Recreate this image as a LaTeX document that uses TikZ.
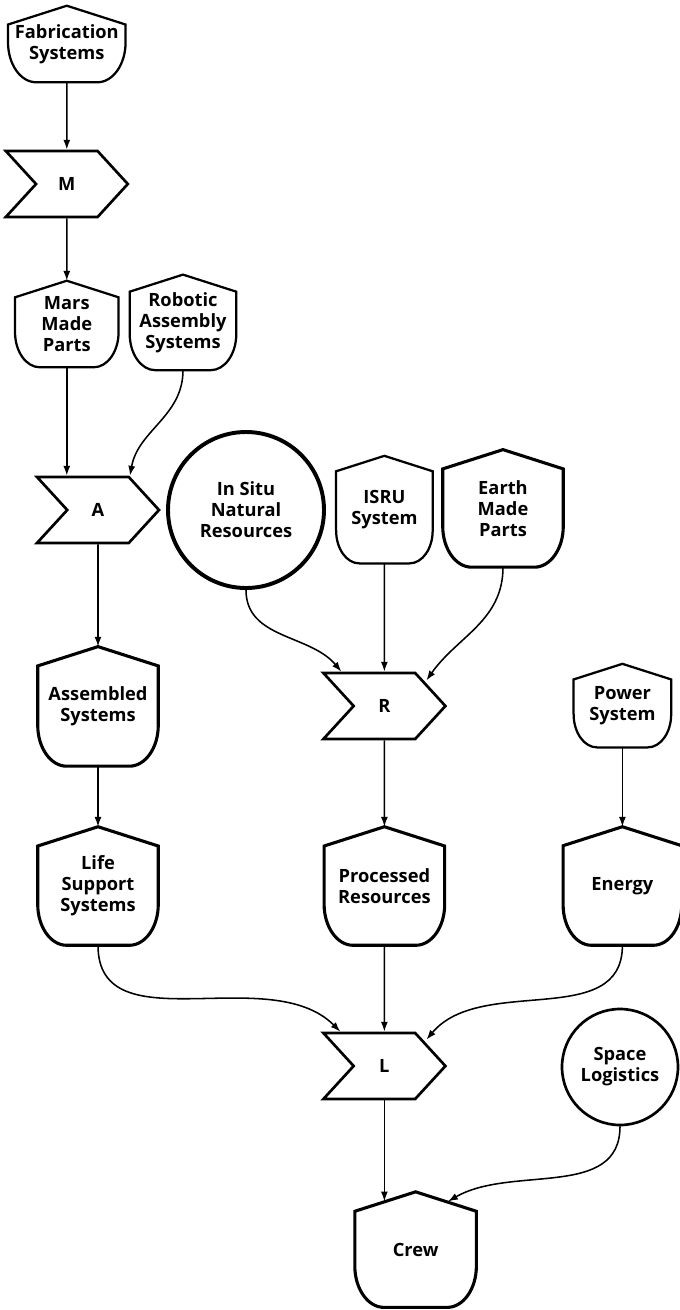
\documentclass[tikz,border=0pt]{standalone}
\usepackage{fontspec}
\setmainfont{Open Sans}
\usetikzlibrary{arrows.meta,shapes.symbols,calc}
\tikzset{
  box/.style={align=center, inner sep=0pt, font=\fontsize{13}{15}\selectfont\bfseries},
  shield/.style 2 args={box, minimum width=#1, minimum height=#2},
  act/.style={box, draw, line width=1.9pt, signal, signal to=east, signal from=west,
    signal pointer angle=95, minimum width=3.05cm, minimum height=1.65cm},
  res/.style={box, draw, circle, line width=#1},
  flow/.style={-{Latex[length=7pt,width=5pt]}, line width=1.1pt},
}
\begin{document}
\begin{tikzpicture}
\useasboundingbox (0,0) rectangle (17,-32.75);
\node[shield={2.925cm}{1.9cm}] (fab) at (1.67,-1.1) {Fabrication\\Systems};
\node[act] (M) at (1.67,-4.6) {M};
\node[shield={2.575cm}{2.15cm}] (mars) at (1.67,-8.1) {Mars\\Made\\Parts};
\node[shield={2.65cm}{2.375cm}] (robot) at (4.575,-8.06) {Robotic\\Assembly\\Systems};
\node[act] (A) at (2.45,-12.75) {A};
\node[res=2.8pt, minimum size=3.9cm] (insitu) at (6.15,-12.75) {In Situ\\Natural\\Resources};
\node[shield={2.4cm}{2.675cm}] (isru) at (9.61,-12.74) {ISRU\\System};
\node[shield={3cm}{2.925cm}] (earth) at (12.575,-12.71) {Earth\\Made\\Parts};
\node[shield={3cm}{2.975cm}] (asm) at (2.45,-17.66) {Assembled\\Systems};
\node[act] (R) at (9.61,-17.65) {R};
\node[shield={2.425cm}{2.075cm}] (power) at (15.56,-17.64) {Power\\System};
\node[shield={3cm}{2.95cm}] (life) at (2.45,-22.15) {Life\\Support\\Systems};
\node[shield={3cm}{2.95cm}] (proc) at (9.61,-22.15) {Processed\\Resources};
\node[shield={2.95cm}{2.95cm}] (energy) at (15.56,-22.15) {Energy};
\node[act] (L) at (9.61,-26.65) {L};
\node[res=1.9pt, minimum size=2.9cm] (space) at (15.5,-26.675) {Space\\Logistics};
\node[shield={3.025cm}{2.875cm}] (crew) at (10.39,-31.24) {Crew};
\foreach \s/\lw in {fab/1.6pt,mars/1.6pt,robot/1.6pt,isru/1.6pt,earth/2.2pt,asm/2.2pt,
  power/1.6pt,life/2.2pt,proc/2.2pt,energy/2.2pt,crew/2.2pt}
  \draw[line width=\lw] let \p1=($(\s.east)-(\s.west)$), \n1={0.16*\x1}, \n2={0.24*\x1}, \n3={0.34*\x1} in
    (\s.north) -- ([yshift=-\n1]\s.north west) -- ([yshift=\n3]\s.south west)
    arc[start angle=180, end angle=270, x radius=\n2, y radius=\n3]
    -- ([xshift=-\n2]\s.south east)
    arc[start angle=270, end angle=360, x radius=\n2, y radius=\n3]
    -- ([yshift=-\n1]\s.north east) -- cycle;
\draw[flow] (fab) -- (M);
\draw[flow] (M) -- (mars);
\draw[flow] (mars.south) -- (mars.south |- A.north);
\draw[flow] (robot.south) to[out=-90,in=80] ([xshift=0.8cm]A.north);
\draw[flow] (A) -- (asm);
\draw[flow] (asm) -- (life);
\draw[flow] (insitu.south) to[out=-90,in=130] ([xshift=-1.075cm]R.north);
\draw[flow] (isru) -- (R);
\draw[flow] (earth.south) to[out=-90,in=55] ([xshift=1.05cm,yshift=-0.22cm]R.north);
\draw[flow] (R) -- (proc);
\draw[flow] (power) -- (energy);
\draw[flow] (life.south) to[out=-90,in=135] ([xshift=-1.1cm]L.north);
\draw[flow] (proc) -- (L);
\draw[flow] (energy.south) to[out=-90,in=50] ([xshift=1.05cm,yshift=-0.2cm]L.north);
\draw[flow] (L.south) -- ([yshift=-0.24cm]L.south |- crew.north);
\draw[flow] (space.south) to[out=-90,in=30] ([xshift=0.81cm,yshift=-0.24cm]crew.north);
\end{tikzpicture}
\end{document}
